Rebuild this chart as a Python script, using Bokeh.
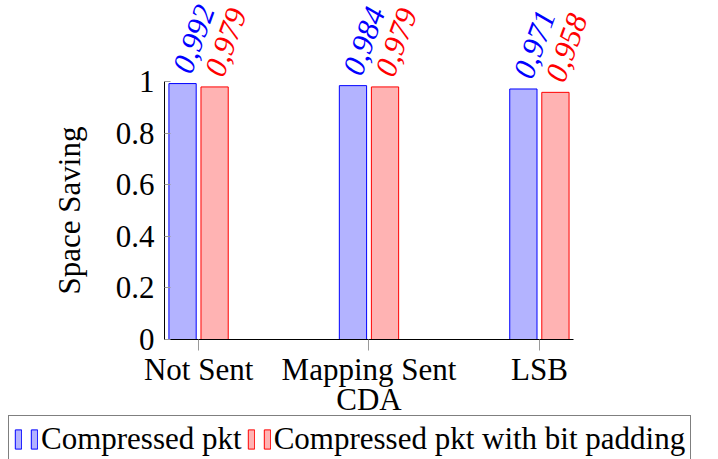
from bokeh.plotting import figure
from bokeh.models import (ColumnDataSource, Range1d, FixedTicker, Legend, LegendItem)
from bokeh.transform import dodge
from bokeh.core.properties import value
from bokeh.embed import file_html
from bokeh.resources import INLINE

categories = ["Not Sent", "Mapping Sent", "LSB"]
pkt = [0.992, 0.984, 0.971]
pad = [0.979, 0.979, 0.958]
yticks = [0, 0.2, 0.4, 0.6, 0.8, 1]
series_names = ["Compressed pkt", "Compressed pkt with bit padding"]

FONT = "Liberation Serif"
FS = "31px"
BLUE = "#0000ff"
RED = "#ff0000"
BLUE_FILL = "#b3b3ff"
RED_FILL = "#ffb3b3"

idx = list(range(len(categories)))
src = ColumnDataSource(dict(
    x=idx, pkt=pkt, pad=pad,
    pkt_lbl=[f"{v:.3f}".replace(".", ",") for v in pkt],
    pad_lbl=[f"{v:.3f}".replace(".", ",") for v in pad],
))

W = 718
H = 459
XMIN, XMAX = -0.2, 2.2
YMIN, YMAX = 0, 1

p = figure(width=W, height=H, output_backend="svg", toolbar_location=None,
           x_range=Range1d(-1.1624, 3.051), y_range=Range1d(-0.4651, 1.314),
           min_border_left=0, min_border_right=0, min_border_top=0,
           min_border_bottom=0)
p.outline_line_color = None
p.grid.visible = False
p.background_fill_color = "white"

off = 0.094
w = 0.16
r1 = p.vbar(x=dodge("x", -off), top="pkt", width=w, source=src,
            fill_color=BLUE_FILL, line_color=BLUE, line_width=1)
r2 = p.vbar(x=dodge("x", off), top="pad", width=w, source=src,
            fill_color=RED_FILL, line_color=RED, line_width=1)

ang = 1.2217  # 70 degrees
for col, lbl, colr in (("pkt", "pkt_lbl", BLUE), ("pad", "pad_lbl", RED)):
    p.text(x=dodge("x", -off if col == "pkt" else off), y=col, text=lbl, source=src,
           angle=ang, text_align="left", text_baseline="middle",
           x_offset=-1, y_offset=-12,
           text_font=value(FONT), text_font_style="italic", text_font_size=FS,
           text_color=colr)

# x axis
xa = p.xaxis[0]
xa.fixed_location = YMIN
xa.bounds = (XMIN, XMAX)
xa.ticker = FixedTicker(ticks=idx)
xa.major_label_overrides = {i: c for i, c in zip(idx, categories)}
xa.major_tick_in = 0
xa.major_tick_out = 11
xa.major_tick_line_color = "#999999"
xa.minor_tick_line_color = None
xa.axis_line_color = "black"
xa.major_label_standoff = 1
xa.major_label_text_font = FONT
xa.major_label_text_font_size = FS
xa.major_label_text_color = "black"
xa.axis_label = "CDA"
xa.axis_label_text_font = FONT
xa.axis_label_text_font_size = FS
xa.axis_label_text_font_style = "normal"
xa.axis_label_text_color = "black"
xa.axis_label_standoff = -8

# y axis
ya = p.yaxis[0]
ya.fixed_location = XMIN
ya.bounds = (YMIN, YMAX)
ya.ticker = FixedTicker(ticks=yticks)
ya.major_label_overrides = {0: "0", 1: "1"}
ya.major_tick_in = 6
ya.major_tick_out = 0
ya.major_tick_line_color = "#999999"
ya.minor_tick_line_color = None
ya.axis_line_color = "black"
ya.major_label_standoff = 10
ya.major_label_text_font = FONT
ya.major_label_text_font_size = FS
ya.major_label_text_color = "black"
ya.axis_label = "Space Saving"
ya.axis_label_text_font = FONT
ya.axis_label_text_font_size = FS
ya.axis_label_text_font_style = "normal"
ya.axis_label_text_color = "black"
ya.axis_label_standoff = 26

legend = Legend(items=[
    LegendItem(label="", renderers=[r1]),
    LegendItem(label=series_names[0], renderers=[r1]),
    LegendItem(label="", renderers=[r2]),
    LegendItem(label=series_names[1], renderers=[r2]),
], location=(8, -4), orientation="horizontal",
    glyph_width=8, glyph_height=24, label_width=0, label_standoff=3,
    spacing=5, padding=5, margin=0,
    label_text_font=FONT, label_text_font_size=FS, label_text_color="black",
    border_line_color="black", border_line_width=1, background_fill_alpha=1)
p.add_layout(legend, "center")

open("out.html", "w").write(file_html(p, INLINE))
